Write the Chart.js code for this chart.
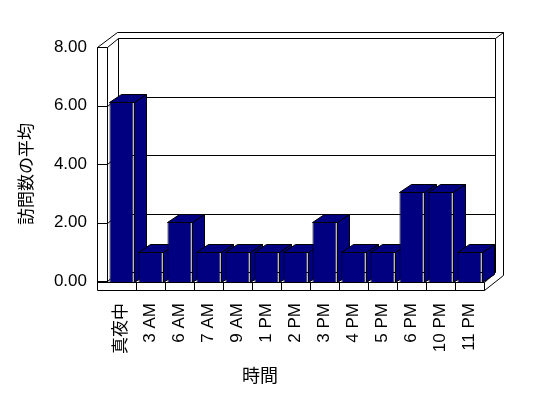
<!DOCTYPE html>
<html><head><meta charset="utf-8">
<script src="https://cdn.jsdelivr.net/npm/chart.js@4/dist/chart.umd.min.js"></script>
<style>html,body{margin:0;padding:0;background:#fff}#wrap{width:548px;height:398px;position:relative}</style>
</head><body><div id="wrap"><canvas id="c" width="548" height="398"></canvas></div>
<script>
// ---- data ----
const categories = ['真夜中','3 AM','6 AM','7 AM','9 AM','1 PM','2 PM','3 PM','4 PM','5 PM','6 PM','10 PM','11 PM'];
const visits = [6,1,2,1,1,1,1,2,1,1,3,3,1];
const yTicks = [0,2,4,6,8];
const yTickLabels = ['0.00','2.00','4.00','6.00','8.00'];
const xTitle = '時間';
const yTitle = '訪問数の平均';

// ---- style ----
const FONT_LATIN = '"Liberation Sans", "Noto Sans CJK JP", sans-serif';
const FONT_CJK = '"Noto Sans CJK JP", sans-serif';
const NAVY = '#000080';
const WALL = 10, FLOOR = 8, DX = 11, DY = 9, OX = 19, OY = 15, BD = 12, BH = 8;

const frame3d = {
  id: 'frame3d',
  beforeDraw(chart) {
    const c = chart.ctx;
    c.save(); c.fillStyle = '#fff'; c.fillRect(0, 0, chart.width, chart.height); c.restore();
  },
  beforeDatasetsDraw(chart) {
    const c = chart.ctx, a = chart.chartArea, ys = chart.scales.y, xs = chart.scales.x;
    const L = a.left, R = a.right, T = a.top, B = a.bottom;
    const yTop = ys.getPixelForValue(yTicks[yTicks.length - 1]) - DY;
    const yBot = ys.getPixelForValue(yTicks[0]) - DY;
    c.save();
    c.translate(0.5, 0.5);
    c.strokeStyle = '#000'; c.lineWidth = 1;
    const line = (pts) => { c.beginPath(); c.moveTo(Math.round(pts[0]), Math.round(pts[1]));
      for (let i = 2; i < pts.length; i += 2) c.lineTo(Math.round(pts[i]), Math.round(pts[i+1])); c.stroke(); };
    // gridlines (wall face, left wall inner face, back wall)
    yTicks.forEach(v => {
      const yf = ys.getPixelForValue(v), yb = yf - DY;
      line([L - WALL, yf, L, yf, L + DX, yb, R + DX, yb]);
    });
    // back wall edges
    line([L + DX, yTop, L + DX, yBot]);
    line([R + DX, yTop, R + DX, yBot]);
    line([L + WALL, T - OY, R + OX, T - OY, R + OX, B - 7]);
    line([R + DX, yTop, R + OX, T - OY]);
    // left wall front face
    line([L - WALL, T - OY + 15, L, T]);
    line([L - WALL, T, L + WALL, T - OY]);
    line([L - WALL, T, L - WALL, B + FLOOR]);
    line([L, T, L, B]);
    // floor
    line([L - WALL, B, R, B, R, B + FLOOR, L - WALL, B + FLOOR]);
    const w = (R - L) / categories.length;
    for (let k = 1; k < categories.length; k++) line([L + k * w, B, L + k * w, B + FLOOR]);
    line([R, B, R + DX, yBot]);
    line([R, B + FLOOR, R + OX, B - 7]);
    c.restore();
    // bar sides & tops
    const meta = chart.getDatasetMeta(0);
    c.save();
    c.fillStyle = NAVY; c.strokeStyle = '#000'; c.lineWidth = 1;
    meta.data.forEach(bar => {
      const p = bar.getProps(['x','y','base','width'], true);
      const l = Math.round(p.x - p.width / 2), r = Math.round(p.x + p.width / 2);
      const top = Math.round(p.y), base = Math.round(p.base);
      c.beginPath();
      c.moveTo(r + 0.5, top + 0.5); c.lineTo(r + BD + 0.5, top - BH + 0.5);
      c.lineTo(r + BD + 0.5, base - BH + 0.5); c.lineTo(r + 0.5, base + 0.5); c.closePath();
      c.fill(); c.stroke();
      c.beginPath();
      c.moveTo(l + 0.5, top + 0.5); c.lineTo(l + BD + 0.5, top - BH + 0.5);
      c.lineTo(r + BD + 0.5, top - BH + 0.5); c.lineTo(r + 0.5, top + 0.5); c.closePath();
      c.fill(); c.stroke();
    });
    c.restore();
  },
  afterDraw(chart) {
    const c = chart.ctx;
    c.save();
    c.fillStyle = '#000';
    c.textAlign = 'center'; c.textBaseline = 'middle';
    c.font = '17px ' + FONT_CJK;
    c.translate(26, 174); c.rotate(-Math.PI / 2);
    c.fillText(yTitle, 0, 0);
    c.restore();
    c.save();
    c.fillStyle = '#000';
    c.textAlign = 'center'; c.textBaseline = 'middle';
    c.font = '18px ' + FONT_CJK;
    c.fillText(xTitle, 260, 375);
    c.restore();
  }
};

new Chart(document.getElementById('c'), {
  type: 'bar',
  data: {
    labels: categories,
    datasets: [{
      data: visits,
      yAxisID: 'yb',
      backgroundColor: NAVY,
      borderColor: '#000',
      borderWidth: 1,
      barPercentage: 0.83,
      categoryPercentage: 1,
      clip: false
    }]
  },
  options: {
    responsive: false,
    devicePixelRatio: 1,
    animation: false,
    layout: { padding: { left: 0, top: 47, right: 64, bottom: 0 } },
    plugins: { legend: { display: false }, tooltip: { enabled: false } },
    scales: {
      x: {
        position: 'bottom',
        grid: { display: false, drawTicks: false },
        border: { display: false },
        ticks: { autoSkip: false, minRotation: 90, maxRotation: 90, padding: 21, color: '#000',
                 font: { family: FONT_LATIN, size: 17 } },
        afterFit: s => { s.height = 116; }
      },
      y: {
        position: 'left',
        min: -8 / 234, max: 8,
        afterBuildTicks: s => { s.ticks = yTicks.map(v => ({ value: v })); },
        grid: { display: false, drawTicks: false },
        border: { display: false },
        ticks: { padding: 20, color: '#000', font: { family: FONT_LATIN, size: 17 },
                 callback: v => yTickLabels[yTicks.indexOf(v)] },
        afterFit: s => { s.width = 107; }
      },
      yb: {
        display: false,
        min: 0, max: 235 / 30
      }
    }
  },
  plugins: [frame3d]
});
</script>
</body></html>
